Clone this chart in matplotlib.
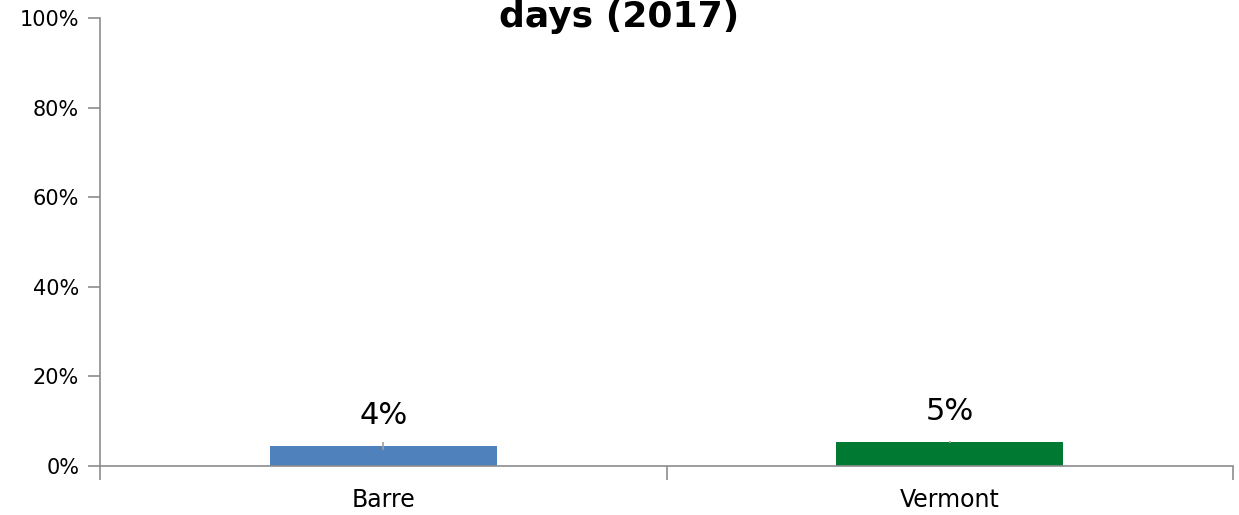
import numpy as np
import matplotlib.pyplot as plt
from matplotlib.ticker import PercentFormatter

# Доли по местности
categories = ['Barre', 'Vermont']
values = [4.46, 5.36]
errors = [0.9, 0.3]
labels = ['4%', '5%']
colors = ['#4F81BD', '#007A33']

plt.rcParams['font.family'] = ['DejaVu Sans']

fig = plt.figure(figsize=(12.39, 5.15), dpi=100)
ax = fig.add_axes([100 / 1239, 49 / 515, 1133 / 1239, 448 / 515])

x = np.arange(len(categories))
ax.bar(x, values, width=0.4, color=colors, zorder=2)
ax.errorbar(x, values, yerr=errors, fmt='none', ecolor='#A0A0A0',
            elinewidth=1.2, capsize=0, zorder=3)

for xi, v, lab in zip(x, values, labels):
    ax.text(xi, v + 6.9, lab, ha='center', va='center', fontsize=22)

ax.set_xlim(-0.5, len(categories) - 0.5)
ax.set_ylim(0, 100)
ax.set_yticks(np.arange(0, 101, 20))
ax.yaxis.set_major_formatter(PercentFormatter(decimals=0))
ax.set_xticks(np.arange(-0.5, len(categories), 1))
ax.set_xticklabels([])
ax.set_xticks(x, minor=True)
ax.set_xticklabels(categories, minor=True)
ax.tick_params(axis='x', which='minor', length=0, labelsize=17, pad=16)
ax.tick_params(axis='x', which='major', length=10, color='#8C8C8C', width=1.2)
ax.tick_params(axis='y', length=9, color='#8C8C8C', width=1.2, labelsize=15, pad=6)

for side in ['top', 'right']:
    ax.spines[side].set_visible(False)
for side in ['left', 'bottom']:
    ax.spines[side].set_color('#8C8C8C')
    ax.spines[side].set_linewidth(1.2)

fig.text(0.5, 1 - 27 / 515, 'days (2017)', ha='center', va='baseline',
         fontsize=26, fontweight='bold')

fig.savefig('out.png', dpi=100)
